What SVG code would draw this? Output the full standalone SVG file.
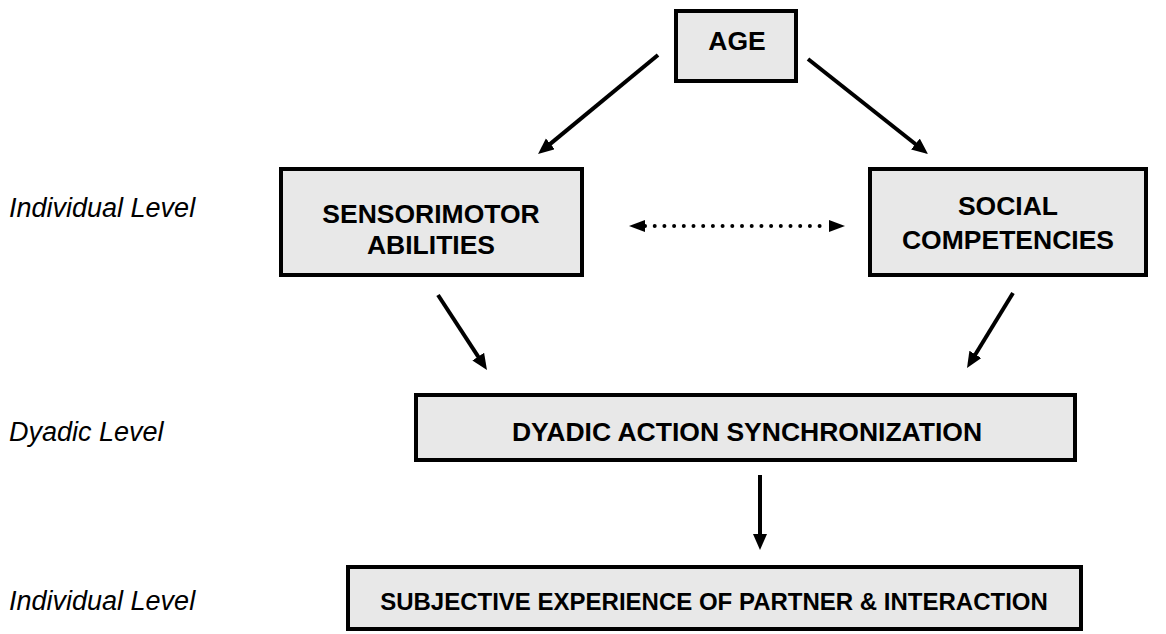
<svg xmlns="http://www.w3.org/2000/svg" width="1166" height="634" viewBox="0 0 1166 634">
  <style>
    .box { fill: #e8e8e8; stroke: #000; stroke-width: 4; }
    .lbl { font-family: "Liberation Sans", Arial, sans-serif; font-weight: bold; font-size: 26.5px; fill: #000; text-anchor: middle; }
    .lbl-s { font-size: 24px; }
    .side { font-family: "Liberation Sans", Arial, sans-serif; font-style: italic; font-size: 27px; fill: #000; }
    .arr { stroke: #000; stroke-width: 4; fill: none; marker-end: url(#ah); }
    .dot { stroke: #000; stroke-width: 4; stroke-linecap: round; stroke-dasharray: 0 9.7; fill: none; marker-start: url(#dh); marker-end: url(#dh); }
  </style>
  <defs>
    <marker id="ah" markerUnits="userSpaceOnUse" markerWidth="18" markerHeight="16" refX="8" refY="7" orient="auto">
      <path d="M0,0 L16,7 L0,14 z" fill="#000"/>
    </marker>
    <marker id="dh" markerUnits="userSpaceOnUse" markerWidth="18" markerHeight="14" refX="0" refY="6" orient="auto-start-reverse">
      <path d="M0,0 L16,6 L0,12 z" fill="#000"/>
    </marker>
  </defs>
  <rect width="1166" height="634" fill="#fff"/>

  <g id="side-labels">
    <text class="side" x="9" y="217">Individual Level</text>
    <text class="side" x="9" y="441">Dyadic Level</text>
    <text class="side" x="9" y="610">Individual Level</text>
  </g>

  <g id="connectors">
    <line class="arr" x1="658" y1="55" x2="544.2" y2="148.9"/>
    <line class="arr" x1="808" y1="59" x2="921.7" y2="149"/>
    <line class="arr" x1="438" y1="295" x2="482.6" y2="363.3"/>
    <line class="arr" x1="1013" y1="293" x2="971.2" y2="361.2"/>
    <line class="arr" x1="760" y1="475" x2="760" y2="542"/>
    <line class="dot" x1="645" y1="226" x2="829" y2="226"/>
  </g>

  <g id="node-age">
    <rect class="box" x="676" y="11" width="120" height="70"/>
    <text class="lbl" x="737" y="50">AGE</text>
  </g>
  <g id="node-sensorimotor">
    <rect class="box" x="281" y="169" width="301" height="106"/>
    <text class="lbl" x="431" y="223">SENSORIMOTOR</text>
    <text class="lbl" x="431" y="254">ABILITIES</text>
  </g>
  <g id="node-social">
    <rect class="box" x="870" y="169" width="276" height="106"/>
    <text class="lbl" x="1008" y="215">SOCIAL</text>
    <text class="lbl" x="1008" y="249">COMPETENCIES</text>
  </g>
  <g id="node-dyadic">
    <rect class="box" x="416" y="395" width="659" height="65"/>
    <text class="lbl" x="747" y="441">DYADIC ACTION SYNCHRONIZATION</text>
  </g>
  <g id="node-subjective">
    <rect class="box" x="348" y="567" width="733" height="62"/>
    <text class="lbl lbl-s" x="714" y="610">SUBJECTIVE EXPERIENCE OF PARTNER &amp; INTERACTION</text>
  </g>
</svg>
